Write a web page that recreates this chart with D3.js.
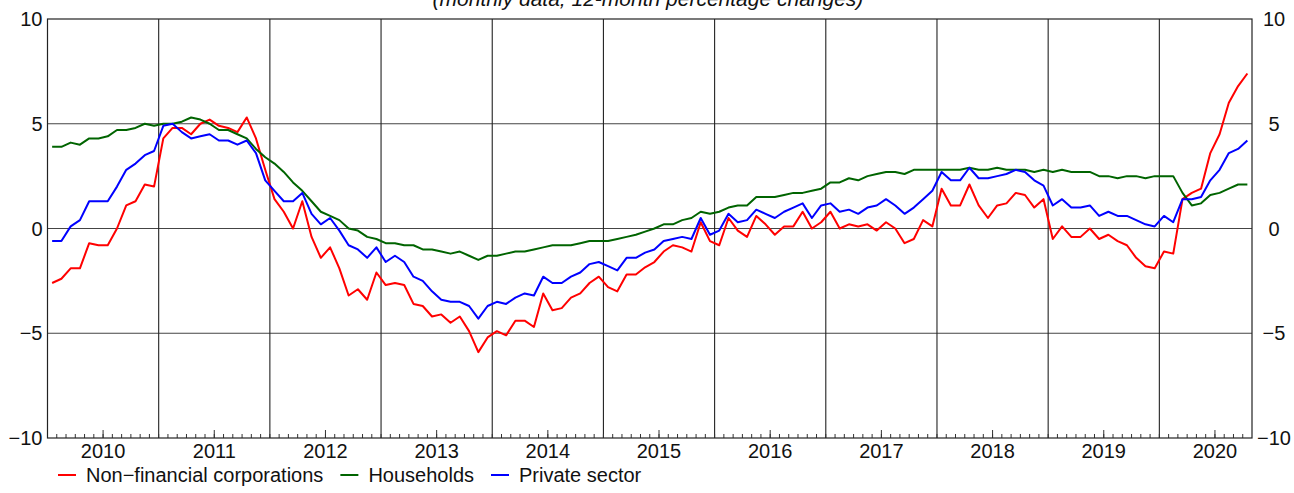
<!DOCTYPE html>
<html>
<head>
<meta charset="utf-8">
<script src="https://cdn.jsdelivr.net/npm/d3@7"></script>
<style>
  body { margin: 0; background: #fff; }
  text { font-family: "Liberation Sans", Arial, sans-serif; fill: #111; }
</style>
</head>
<body>
<div class="chart"></div>
<script>
var width = 1294, height = 493;

// monthly series, Jan 2010 .. Oct 2020
var startYear = 2010;
var years = [2010, 2011, 2012, 2013, 2014, 2015, 2016, 2017, 2018, 2019, 2020];
var yTicks = [-10, -5, 0, 5, 10];

var nfc = [
  -2.6, -2.4, -1.9, -1.9, -0.7, -0.8, -0.8, 0.0, 1.1, 1.3, 2.1, 2.0,
  4.3, 4.8, 4.8, 4.5, 5.0, 5.2, 4.9, 4.8, 4.6, 5.3, 4.3, 2.8,
  1.4, 0.8, 0.0, 1.3, -0.4, -1.4, -0.9, -1.9, -3.2, -2.9, -3.4, -2.1,
  -2.7, -2.6, -2.7, -3.6, -3.7, -4.2, -4.1, -4.5, -4.2, -4.9, -5.9, -5.2,
  -4.9, -5.1, -4.4, -4.4, -4.7, -3.1, -3.9, -3.8, -3.3, -3.1, -2.6, -2.3,
  -2.8, -3.0, -2.2, -2.2, -1.85, -1.6, -1.1, -0.8, -0.9, -1.1, 0.3, -0.6,
  -0.8, 0.5, -0.1, -0.4, 0.6, 0.2, -0.3, 0.1, 0.1, 0.8, 0.0, 0.3,
  0.8, 0.0, 0.2, 0.1, 0.2, -0.1, 0.3, 0.0, -0.7, -0.5, 0.4, 0.1,
  1.9, 1.1, 1.1, 2.1, 1.1, 0.5, 1.1, 1.2, 1.7, 1.6, 1.0, 1.4,
  -0.5, 0.1, -0.4, -0.4, 0.0, -0.5, -0.3, -0.6, -0.8, -1.4, -1.8, -1.9,
  -1.1, -1.2, 1.4, 1.7, 1.9, 3.6, 4.5, 6.0, 6.8, 7.4
];

var households = [
  3.9, 3.9, 4.1, 4.0, 4.3, 4.3, 4.4, 4.7, 4.7, 4.8, 5.0, 4.9,
  5.0, 5.0, 5.1, 5.3, 5.2, 5.0, 4.7, 4.7, 4.5, 4.3, 3.8, 3.4,
  3.1, 2.7, 2.2, 1.8, 1.3, 0.8, 0.6, 0.4, 0.0, -0.1, -0.4, -0.5,
  -0.7, -0.7, -0.8, -0.8, -1.0, -1.0, -1.1, -1.2, -1.1, -1.3, -1.5, -1.3,
  -1.3, -1.2, -1.1, -1.1, -1.0, -0.9, -0.8, -0.8, -0.8, -0.7, -0.6, -0.6,
  -0.6, -0.5, -0.4, -0.3, -0.15, 0.0, 0.2, 0.2, 0.4, 0.5, 0.8, 0.7,
  0.8, 1.0, 1.1, 1.1, 1.5, 1.5, 1.5, 1.6, 1.7, 1.7, 1.8, 1.9,
  2.2, 2.2, 2.4, 2.3, 2.5, 2.6, 2.7, 2.7, 2.6, 2.8, 2.8, 2.8,
  2.8, 2.8, 2.8, 2.9, 2.8, 2.8, 2.9, 2.8, 2.8, 2.8, 2.7, 2.8,
  2.7, 2.8, 2.7, 2.7, 2.7, 2.5, 2.5, 2.4, 2.5, 2.5, 2.4, 2.5,
  2.5, 2.5, 1.7, 1.1, 1.2, 1.6, 1.7, 1.9, 2.1, 2.1
];

var privateSector = [
  -0.6, -0.6, 0.1, 0.4, 1.3, 1.3, 1.3, 2.0, 2.8, 3.1, 3.5, 3.7,
  4.9, 5.0, 4.6, 4.3, 4.4, 4.5, 4.2, 4.2, 4.0, 4.2, 3.6, 2.3,
  1.8, 1.3, 1.3, 1.7, 0.7, 0.2, 0.5, -0.1, -0.8, -1.0, -1.4, -0.9,
  -1.6, -1.3, -1.6, -2.3, -2.5, -3.0, -3.4, -3.5, -3.5, -3.7, -4.3, -3.7,
  -3.5, -3.6, -3.3, -3.1, -3.2, -2.3, -2.6, -2.6, -2.3, -2.1, -1.7, -1.6,
  -1.8, -2.0, -1.4, -1.4, -1.15, -1.0, -0.6, -0.5, -0.4, -0.5, 0.5, -0.3,
  -0.1, 0.7, 0.3, 0.4, 0.9, 0.7, 0.5, 0.8, 1.0, 1.2, 0.5, 1.1,
  1.2, 0.8, 0.9, 0.7, 1.0, 1.1, 1.4, 1.1, 0.7, 1.0, 1.4, 1.8,
  2.7, 2.3, 2.3, 2.9, 2.4, 2.4, 2.5, 2.6, 2.8, 2.7, 2.3, 2.05,
  1.1, 1.4, 1.0, 1.0, 1.1, 0.6, 0.8, 0.6, 0.6, 0.4, 0.2, 0.1,
  0.6, 0.3, 1.4, 1.4, 1.5, 2.3, 2.8, 3.6, 3.8, 4.2
];

var seriesNames = ['Non\u2212financial corporations', 'Households', 'Private sector'];
var seriesColors = ['#ff0000', '#006400', '#0000ff'];
var seriesData = [nfc, households, privateSector];

var plotLeft = 47.5, plotRight = 1252, plotTop = 19, plotBottom = 438;
var nMonths = nfc.length;

var svg = d3.select('.chart').append('svg')
  .attr('width', width)
  .attr('height', height);

var x = d3.scaleLinear().domain([0, nMonths]).range([plotLeft, plotRight]);
var y = d3.scaleLinear().domain([-10, 10]).range([plotBottom, plotTop]);

var fmt = function(v) { return v < 0 ? '\u2212' + Math.abs(v) : '' + v; };

// title (cut off at top)
svg.append('text')
  .attr('x', 648).attr('y', 5.5)
  .attr('text-anchor', 'middle')
  .style('font-size', '21px')
  .style('font-style', 'italic')
  .text('(monthly data; 12-month percentage changes)');

// horizontal grid
svg.append('g').selectAll('line').data([-5, 0, 5]).enter().append('line')
  .attr('x1', plotLeft).attr('x2', plotRight)
  .attr('y1', function(d) { return y(d); })
  .attr('y2', function(d) { return y(d); })
  .attr('stroke', '#444').attr('stroke-width', 1.1);

// vertical grid at year boundaries
var boundaries = d3.range(12, nMonths, 12);
svg.append('g').selectAll('line').data(boundaries).enter().append('line')
  .attr('x1', function(d) { return x(d); })
  .attr('x2', function(d) { return x(d); })
  .attr('y1', plotTop).attr('y2', plotBottom)
  .attr('stroke', '#222').attr('stroke-width', 1.1);

// month ticks on bottom axis
svg.append('g').selectAll('line').data(d3.range(1, nMonths)).enter().append('line')
  .attr('x1', function(d) { return x(d); })
  .attr('x2', function(d) { return x(d); })
  .attr('y1', plotBottom).attr('y2', plotBottom - 4)
  .attr('stroke', '#333').attr('stroke-width', 1);

// mid-year ticks and year labels
var yearMid = function(yr) { return (yr - startYear) * 12 + 6; };
svg.append('g').selectAll('line').data(years).enter().append('line')
  .attr('x1', function(d) { return x(yearMid(d)); })
  .attr('x2', function(d) { return x(yearMid(d)); })
  .attr('y1', plotBottom).attr('y2', plotBottom - 8)
  .attr('stroke', '#333').attr('stroke-width', 1);

svg.append('g').selectAll('text').data(years).enter().append('text')
  .attr('x', function(d) { return x(yearMid(d)); })
  .attr('y', 457.5)
  .attr('text-anchor', 'middle')
  .style('font-size', '20px')
  .text(function(d) { return d; });

// y labels, both sides
svg.append('g').selectAll('text').data(yTicks).enter().append('text')
  .attr('x', plotLeft - 5)
  .attr('y', function(d) { return y(d); })
  .attr('dy', '0.36em')
  .attr('text-anchor', 'end')
  .style('font-size', '20px')
  .text(fmt);

svg.append('g').selectAll('text').data(yTicks).enter().append('text')
  .attr('x', 1274)
  .attr('y', function(d) { return y(d); })
  .attr('dy', '0.36em')
  .attr('text-anchor', 'middle')
  .style('font-size', '20px')
  .text(fmt);

// frame
svg.append('rect')
  .attr('x', plotLeft).attr('y', plotTop)
  .attr('width', plotRight - plotLeft).attr('height', plotBottom - plotTop)
  .attr('fill', 'none').attr('stroke', '#222').attr('stroke-width', 1.2);

// series lines
var line = d3.line()
  .x(function(d, i) { return x(i + 0.5); })
  .y(function(d) { return y(d); });

svg.append('g').selectAll('path').data(seriesData).enter().append('path')
  .attr('d', line)
  .attr('fill', 'none')
  .attr('stroke', function(d, i) { return seriesColors[i]; })
  .attr('stroke-width', 2)
  .attr('stroke-linejoin', 'round');

// legend
var legend = svg.append('g');
var cursor = 58;
seriesNames.forEach(function(name, i) {
  legend.append('line')
    .attr('x1', cursor).attr('x2', cursor + 18)
    .attr('y1', 475).attr('y2', 475)
    .attr('stroke', seriesColors[i]).attr('stroke-width', 2);
  var t = legend.append('text')
    .attr('x', cursor + 28).attr('y', 482)
    .style('font-size', '20px')
    .text(name);
  cursor = cursor + 28 + t.node().getComputedTextLength() + 17;
});
</script>
</body>
</html>
